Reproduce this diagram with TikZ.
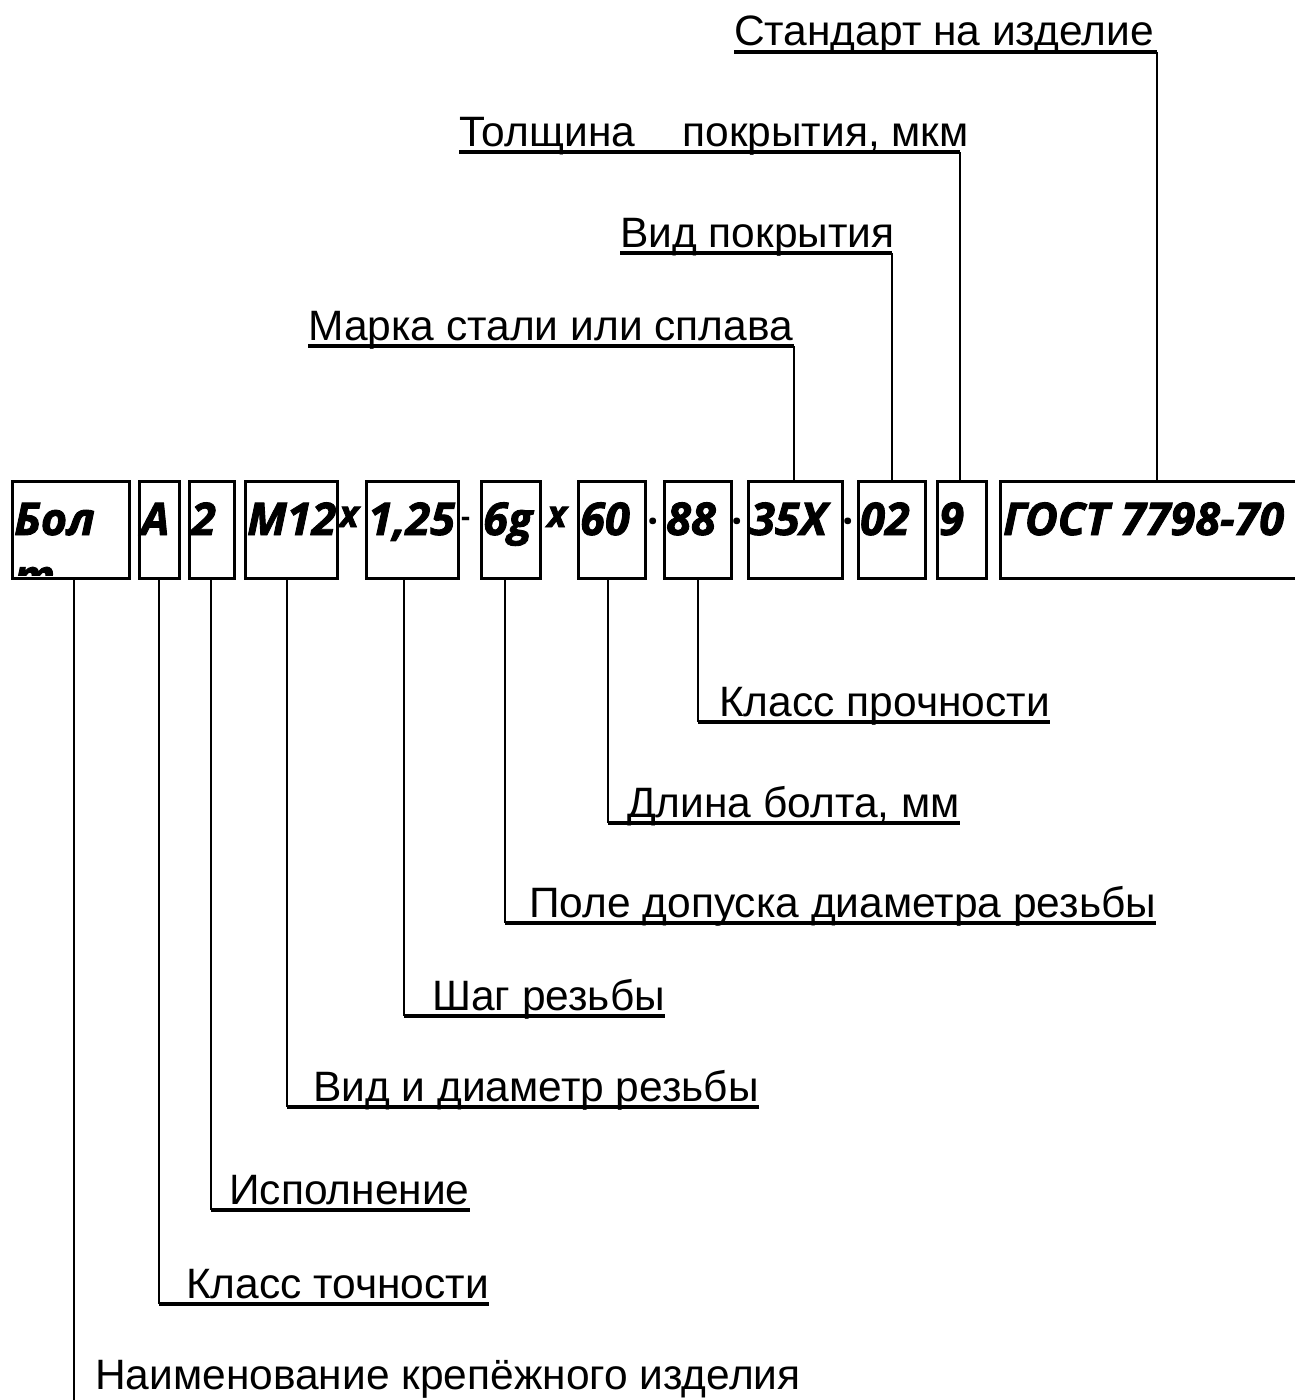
\documentclass[tikz,border=0pt]{standalone}
\usepackage{fontspec}
\setmainfont{Liberation Sans}
\newfontfamily\osans{Open Sans}[BoldItalicFeatures={FakeBold=2}]
\newcommand\lblfont{\fontsize{42.5}{50}\selectfont}
\newcommand\valfont{\osans\bfseries\itshape\fontsize{45}{57}\selectfont}
\newcommand\sepfont{\osans\bfseries\itshape\fontsize{37}{44}\selectfont}
\newcommand\dotfont{\osans\bfseries\fontsize{28}{32}\selectfont}
\newcommand\middotfont{\osans\bfseries\fontsize{40}{44}\selectfont}
\begin{document}
\begin{tikzpicture}[x=1pt,y=-1pt,
  cell/.style={draw=black,line width=3pt,inner sep=0pt,minimum height=97pt,anchor=north west},
  conn/.style={line width=1.8pt},
  uline/.style={line width=4pt},
  lbl/.style={inner sep=0pt,anchor=base west,font=\lblfont},
  val/.style={inner sep=0pt,anchor=base west,font=\valfont},
  sepx/.style={inner sep=0pt,anchor=base west,font=\sepfont},
  sepd/.style={inner sep=0pt,anchor=base west,font=\dotfont},
  sepm/.style={inner sep=0pt,anchor=base west,font=\middotfont}]
\useasboundingbox (0,0) rectangle (1295,1400);
\clip (0,0) rectangle (1295,1400);

% boxes
\node[cell,minimum width=117pt] (bBolt) at (11,480) {};
\node[cell,minimum width=40pt]  (bA)    at (138,480) {};
\node[cell,minimum width=45pt]  (b2)    at (188,480) {};
\node[cell,minimum width=92pt]  (bM)    at (244,480) {};
\node[cell,minimum width=92pt]  (b125)  at (365,480) {};
\node[cell,minimum width=59pt]  (b6g)   at (480,480) {};
\node[cell,minimum width=67pt]  (b60)   at (577,480) {};
\node[cell,minimum width=67pt]  (b88)   at (663,480) {};
\node[cell,minimum width=94pt]  (b35)   at (747,480) {};
\node[cell,minimum width=67pt]  (b02)   at (857,480) {};
\node[cell,minimum width=49pt]  (b9)    at (936,480) {};
\node[cell,minimum width=321pt] (bG)    at (999,480) {};

% values in boxes
\begin{scope}
\clip (12.5,481.5) rectangle (126.5,575.5);
\node[val] (vBolt)  at (14,535) {Бол};
\node[val] (vBolt2) at (14,592) {т};
\end{scope}
\node[val] (vA)   at (141,535) {A};
\node[val] (v2)   at (191,535) {2};
\node[val] (vM)   at (247,535) {М12};
\node[val] (v125) at (368,535) {1,25};
\node[val] (v6g)  at (483,535) {6g};
\node[val] (v60)  at (580,535) {60};
\node[val] (v88)  at (666,535) {88};
\node[val] (v35)  at (750,535) {35Х};
\node[val] (v02)  at (860,535) {02};
\node[val] (v9)   at (939,535) {9};
\node[val] (vG)   at (1003,535) {ГОСТ 7798-70};

% separators
\node[sepx] (s1) at (339,527) {x};
\node[sepd] (s2) at (461,526) {-};
\node[sepx] (s3) at (547,527) {x};
\node[sepm] (s4) at (647,535) {·};
\node[sepm] (s5) at (731,535) {·};
\node[sepm] (s6) at (842,535) {·};

% top labels
\node[lbl] (tStd) at (734,45) {Стандарт на изделие};
\coordinate (kStd) at (1157,52);
\draw[uline] (tStd.base west |- kStd) -- (kStd);
\draw[conn] (kStd) -- (kStd |- bG.north);

\node[lbl] (tThk) at (459,146) {Толщина\ \ \ \ покрытия, мкм};
\coordinate (kThk) at (960,152);
\draw[uline] (tThk.base west |- kThk) -- (kThk);
\draw[conn] (kThk) -- (kThk |- b9.north);

\node[lbl] (tVid) at (620,247) {Вид покрытия};
\coordinate (kVid) at (892,253);
\draw[uline] (tVid.base west |- kVid) -- (kVid);
\draw[conn] (kVid) -- (kVid |- b02.north);

\node[lbl] (tMar) at (308,340) {Марка стали или сплава};
\coordinate (kMar) at (794,346);
\draw[uline] (tMar.base west |- kMar) -- (kMar);
\draw[conn] (kMar) -- (kMar |- b35.north);

% bottom labels
\node[lbl] (tKP) at (719,716) {Класс прочности};
\coordinate (kKP) at (698,722);
\draw[conn] (b88.south -| kKP) -- (kKP);
\draw[uline] (kKP) -- (kKP -| tKP.base east);

\node[lbl] (tDl) at (627,817) {Длина болта, мм};
\coordinate (kDl) at (608,823);
\draw[conn] (b60.south -| kDl) -- (kDl);
\draw[uline] (kDl) -- (kDl -| tDl.base east);

\node[lbl] (tPD) at (529,917) {Поле допуска диаметра резьбы};
\coordinate (kPD) at (505,923);
\draw[conn] (b6g.south -| kPD) -- (kPD);
\draw[uline] (kPD) -- (kPD -| tPD.base east);

\node[lbl] (tSh) at (432,1010) {Шаг резьбы};
\coordinate (kSh) at (404,1016);
\draw[conn] (b125.south -| kSh) -- (kSh);
\draw[uline] (kSh) -- (kSh -| tSh.base east);

\node[lbl] (tVD) at (313,1101) {Вид и диаметр резьбы};
\coordinate (kVD) at (287,1107);
\draw[conn] (bM.south -| kVD) -- (kVD);
\draw[uline] (kVD) -- (kVD -| tVD.base east);

\node[lbl] (tIs) at (229,1204) {Исполнение};
\coordinate (kIs) at (211,1210);
\draw[conn] (b2.south -| kIs) -- (kIs);
\draw[uline] (kIs) -- (kIs -| tIs.base east);

\node[lbl] (tKT) at (186,1298) {Класс точности};
\coordinate (kKT) at (159,1304);
\draw[conn] (bA.south -| kKT) -- (kKT);
\draw[uline] (kKT) -- (kKT -| tKT.base east);

\node[lbl] (tNm) at (95,1389) {Наименование крепёжного изделия};
\coordinate (kNm) at (74,1404);
\draw[conn] (bBolt.south -| kNm) -- (kNm);
\end{tikzpicture}
\end{document}
